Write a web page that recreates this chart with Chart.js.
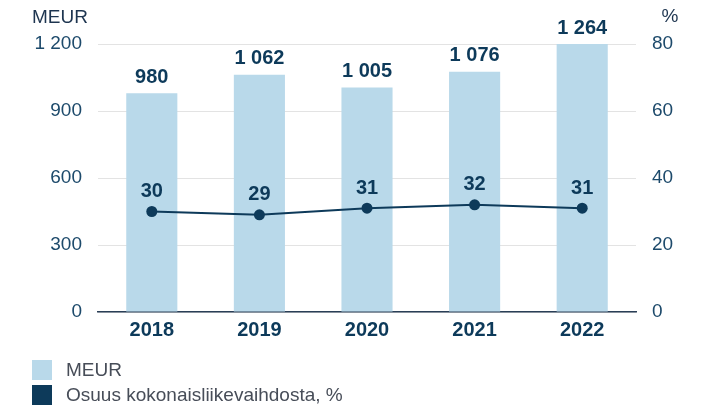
<!DOCTYPE html>
<html>
<head>
<meta charset="utf-8">
<script src="https://cdn.jsdelivr.net/npm/chart.js@4.4.0/dist/chart.umd.min.js"></script>
<style>
  body { margin: 0; background: #fff; font-family: "Liberation Sans", Arial, sans-serif; }
  #wrap { position: relative; width: 710px; height: 406px; }
  #legend { position: absolute; left: 32px; top: 357px; }
  .item { display: flex; align-items: center; height: 25px; color: #474d58; font-size: 19px; }
  .box { width: 20px; height: 20px; margin-right: 14px; }
</style>
</head>
<body>
<div id="wrap">
  <canvas id="chart" width="710" height="406"></canvas>
  <div id="legend"></div>
</div>
<script>
// ─── Data ────────────────────────────────────────────────────────────────────

const years = ["2018", "2019", "2020", "2021", "2022"];
const meur = [980, 1062, 1005, 1076, 1264];
const sharePct = [30, 29, 31, 32, 31];
const leftTicks = [0, 300, 600, 900, 1200];
const rightTicks = [0, 20, 40, 60, 80];

const barColor = "#b9d9ea";
const navy = "#0d3a5a";
const tickColor = "#1d4a6b";
const font = '"Liberation Sans", Arial, sans-serif';

const fmt = (v) => String(v).replace(/\B(?=(\d{3})+(?!\d))/g, " ");

// ─── Value labels + axis titles ─────────────────────────────────────────────

const labelPlugin = {
  id: "labels",
  afterDatasetsDraw(chart) {
    const { ctx, chartArea } = chart;
    ctx.save();
    ctx.fillStyle = navy;
    ctx.textAlign = "center";
    ctx.textBaseline = "middle";
    ctx.font = `bold 20px ${font}`;

    chart.getDatasetMeta(0).data.forEach((bar, i) => {
      const top = Math.max(bar.y, chartArea.top);
      ctx.fillText(fmt(meur[i]), bar.x, top - 16);
    });
    chart.getDatasetMeta(1).data.forEach((pt, i) => {
      ctx.fillText(String(sharePct[i]), pt.x, pt.y - 20);
    });

    ctx.font = `19px ${font}`;
    ctx.fillStyle = "#1e3550";
    ctx.textAlign = "left";
    ctx.fillText("MEUR", 32, 18);
    ctx.textAlign = "center";
    ctx.fillText("%", 670, 17);
    ctx.restore();
  },
};

new Chart(document.getElementById("chart").getContext("2d"), {
  data: {
    labels: years,
    datasets: [
      {
        type: "bar",
        label: "MEUR",
        data: meur,
        yAxisID: "y",
        backgroundColor: barColor,
        barPercentage: 0.475,
        categoryPercentage: 1,
        order: 2,
      },
      {
        type: "line",
        label: "Osuus kokonaisliikevaihdosta, %",
        data: sharePct,
        yAxisID: "y1",
        borderColor: navy,
        backgroundColor: navy,
        borderWidth: 2,
        pointRadius: 5.5,
        pointBackgroundColor: navy,
        pointBorderWidth: 0,
        tension: 0,
        order: 1,
      },
    ],
  },
  options: {
    responsive: false,
    animation: false,
    layout: { padding: { top: 44, left: 0, right: 0, bottom: 0 } },
    plugins: { legend: { display: false }, tooltip: { enabled: false } },
    scales: {
      x: {
        grid: { display: false, drawTicks: false },
        border: { display: true, color: "#2a3f57", width: 1.5 },
        ticks: { color: navy, font: { family: font, size: 20, weight: "bold" }, padding: 6 },
        afterFit: (axis) => { axis.height = 94; },
      },
      y: {
        position: "left",
        min: 0,
        max: 1200,
        afterBuildTicks: (axis) => { axis.ticks = leftTicks.map((v) => ({ value: v })); },
        grid: { color: "#e3e3e3", lineWidth: 1, drawTicks: false },
        border: { display: false },
        ticks: { color: tickColor, font: { family: font, size: 19 }, padding: 16, callback: (v) => fmt(v) },
        afterFit: (axis) => { axis.width = 98; },
      },
      y1: {
        position: "right",
        min: 0,
        max: 80,
        afterBuildTicks: (axis) => { axis.ticks = rightTicks.map((v) => ({ value: v })); },
        grid: { display: false, drawTicks: false },
        border: { display: false },
        ticks: { color: tickColor, font: { family: font, size: 19 }, padding: 16 },
        afterFit: (axis) => { axis.width = 74; },
      },
    },
  },
  plugins: [labelPlugin],
});

// ─── Legend ──────────────────────────────────────────────────────────────────

const legendItems = [
  { text: "MEUR", color: barColor },
  { text: "Osuus kokonaisliikevaihdosta, %", color: navy },
];
document.getElementById("legend").innerHTML = legendItems
  .map((it) => `<div class="item"><span class="box" style="background:${it.color}"></span>${it.text}</div>`)
  .join("");
</script>
</body>
</html>
